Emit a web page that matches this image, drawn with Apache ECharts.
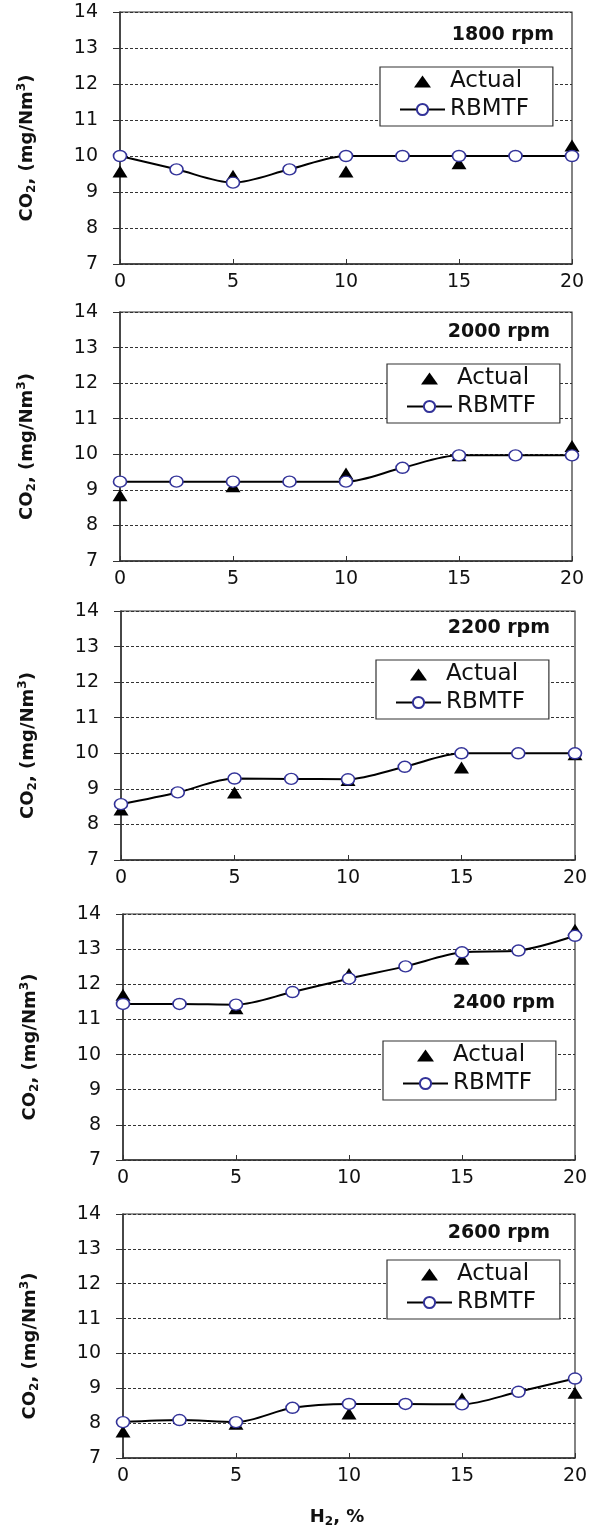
<!DOCTYPE html>
<html>
<head>
<meta charset="utf-8">
<script src="https://cdn.jsdelivr.net/npm/echarts@6/dist/echarts.min.js"></script>
<style>
  html, body { margin: 0; padding: 0; background: #fff; }
  #chart { width: 594px; height: 1529px; }
</style>
</head>
<body>
<div id="chart"></div>
<script>
// H2 % values
var xModel = [0, 2.5, 5, 7.5, 10, 12.5, 15, 17.5, 20];
var xActual = [0, 5, 10, 15, 20];

var titles = ['1800 rpm', '2000 rpm', '2200 rpm', '2400 rpm', '2600 rpm'];

// RBMTF model values
var rbmtf1800 = [10.0, 9.63, 9.26, 9.63, 10.0, 10.0, 10.0, 10.0, 10.0];
var rbmtf2000 = [9.23, 9.23, 9.23, 9.23, 9.23, 9.62, 9.97, 9.97, 9.97];
var rbmtf2200 = [8.57, 8.9, 9.29, 9.28, 9.27, 9.62, 10.0, 10.0, 10.0];
var rbmtf2400 = [11.44, 11.44, 11.42, 11.78, 12.16, 12.51, 12.91, 12.96, 13.38];
var rbmtf2600 = [8.03, 8.09, 8.03, 8.44, 8.55, 8.55, 8.54, 8.9, 9.28];

// measured values
var actual1800 = [9.57, 9.45, 9.57, 9.8, 10.29];
var actual2000 = [8.85, 9.1, 9.46, 9.97, 10.23];
var actual2200 = [8.42, 8.9, 9.25, 9.6, 9.97];
var actual2400 = [11.7, 11.32, 12.29, 12.73, 13.55];
var actual2600 = [7.76, 7.98, 8.28, 8.71, 8.87];

var xTicks = [0, 5, 10, 15, 20];
var yTicks = [7, 8, 9, 10, 11, 12, 13, 14];

var models = [rbmtf1800, rbmtf2000, rbmtf2200, rbmtf2400, rbmtf2600];
var actuals = [actual1800, actual2000, actual2200, actual2400, actual2600];

// layout of each panel
var layout = [
    { grid: { left: 120, top: 12, width: 452, height: 252 }, title: { right: 40, top: 26 }, legend: { left: 380, top: 67 } },
    { grid: { left: 120, top: 312, width: 452, height: 249 }, title: { right: 44, top: 323 }, legend: { left: 387, top: 364 } },
    { grid: { left: 121, top: 611, width: 454, height: 249 }, title: { right: 44, top: 619 }, legend: { left: 376, top: 660 } },
    { grid: { left: 123, top: 914, width: 452, height: 246 }, title: { right: 39, top: 994 }, legend: { left: 383, top: 1041 } },
    { grid: { left: 123, top: 1214, width: 452, height: 246 }, title: { right: 44, top: 1224 }, legend: { left: 387, top: 1260 } }
];

var FONT = 'DejaVu Sans';
var TXT = '#111';
// small triangle for the legend (the extra moves pad the box so it keeps its size)
var TRI_ICON = 'path://M0,13L8.5,1L17,13Z M0,0 M17,14';

function pairs(xs, ys) {
    return xs.map(function (x, i) { return [x, ys[i]]; });
}

var grids = [], xAxes = [], yAxes = [], series = [], titleList = [], legends = [];

for (var i = 0; i < 5; i++) {
    var g = layout[i].grid;
    grids.push({
        left: g.left, top: g.top, width: g.width, height: g.height,
        show: true, borderColor: '#333', borderWidth: 1.2
    });
    xAxes.push({
        type: 'value', gridIndex: i,
        min: xTicks[0], max: xTicks[xTicks.length - 1], interval: 5,
        axisLine: { show: true, lineStyle: { color: '#333', width: 1.5 } },
        axisTick: { show: true, inside: true, length: 5, lineStyle: { color: '#333' } },
        axisLabel: { fontFamily: FONT, fontSize: 19, color: TXT, margin: 9 },
        splitLine: { show: false },
        name: i === 4 ? '{b|H}{s|2}{b|, %}' : '',
        nameLocation: 'middle',
        nameGap: 48,
        nameTextStyle: {
            padding: [0, 24, 0, 0],
            rich: {
                b: { fontFamily: FONT, fontSize: 18, fontWeight: 'bold', color: TXT, lineHeight: 22 },
                s: { fontFamily: FONT, fontSize: 12, fontWeight: 'bold', color: TXT, lineHeight: 22, verticalAlign: 'bottom' }
            }
        }
    });
    yAxes.push({
        type: 'value', gridIndex: i,
        min: yTicks[0], max: yTicks[yTicks.length - 1], interval: 1,
        axisLine: { show: true, lineStyle: { color: '#333', width: 1.5 } },
        axisTick: { show: true, inside: false, length: 7, lineStyle: { color: '#333' } },
        axisLabel: { fontFamily: FONT, fontSize: 19, color: TXT, margin: 22 },
        splitLine: { show: true, lineStyle: { color: '#333', type: [3, 2], width: 1 } },
        name: '{b|CO}{s|2}{b|, (mg/Nm}{p|3}{b|)}',
        nameLocation: 'middle',
        nameGap: 82,
        nameTextStyle: {
            padding: [0, 20, 0, 0],
            rich: {
                b: { fontFamily: FONT, fontSize: 18, fontWeight: 'bold', color: TXT, lineHeight: 22 },
                s: { fontFamily: FONT, fontSize: 12, fontWeight: 'bold', color: TXT, lineHeight: 22, verticalAlign: 'bottom' },
                p: { fontFamily: FONT, fontSize: 12, fontWeight: 'bold', color: TXT, lineHeight: 22, verticalAlign: 'top' }
            }
        }
    });
    series.push({
        name: 'Actual', type: 'scatter',
        xAxisIndex: i, yAxisIndex: i,
        symbol: 'triangle', symbolSize: [15, 12],
        itemStyle: { color: '#000', opacity: 1 },
        z: 2,
        data: pairs(xActual, actuals[i])
    });
    series.push({
        name: 'RBMTF', type: 'line',
        xAxisIndex: i, yAxisIndex: i,
        smooth: 0.3,
        symbol: 'circle', symbolSize: [13, 11], showAllSymbol: true,
        lineStyle: { color: '#000', width: 2 },
        itemStyle: { color: '#fff', borderColor: '#333399', borderWidth: 1.5 },
        z: 3,
        data: pairs(xModel, models[i])
    });
    titleList.push({
        text: titles[i],
        right: layout[i].title.right, top: layout[i].title.top,
        padding: 0,
        textStyle: { fontFamily: FONT, fontSize: 19, fontWeight: 'bold', color: TXT }
    });
    legends.push({
        data: [{ name: 'Actual', icon: TRI_ICON }, 'RBMTF'],
        orient: 'vertical',
        left: layout[i].legend.left, top: layout[i].legend.top,
        padding: [3, 24, 5, 19],
        itemGap: 5,
        itemWidth: 45, itemHeight: 14,
        symbolKeepAspect: true,
        borderColor: '#333', borderWidth: 1.2,
        backgroundColor: '#fff',
        selectedMode: false,
        textStyle: { fontFamily: FONT, fontSize: 23, color: TXT }
    });
}

var myChart = echarts.init(document.getElementById('chart'));
myChart.setOption({
    animation: false,
    backgroundColor: '#fff',
    title: titleList,
    legend: legends,
    grid: grids,
    xAxis: xAxes,
    yAxis: yAxes,
    series: series
});
</script>
</body>
</html>
